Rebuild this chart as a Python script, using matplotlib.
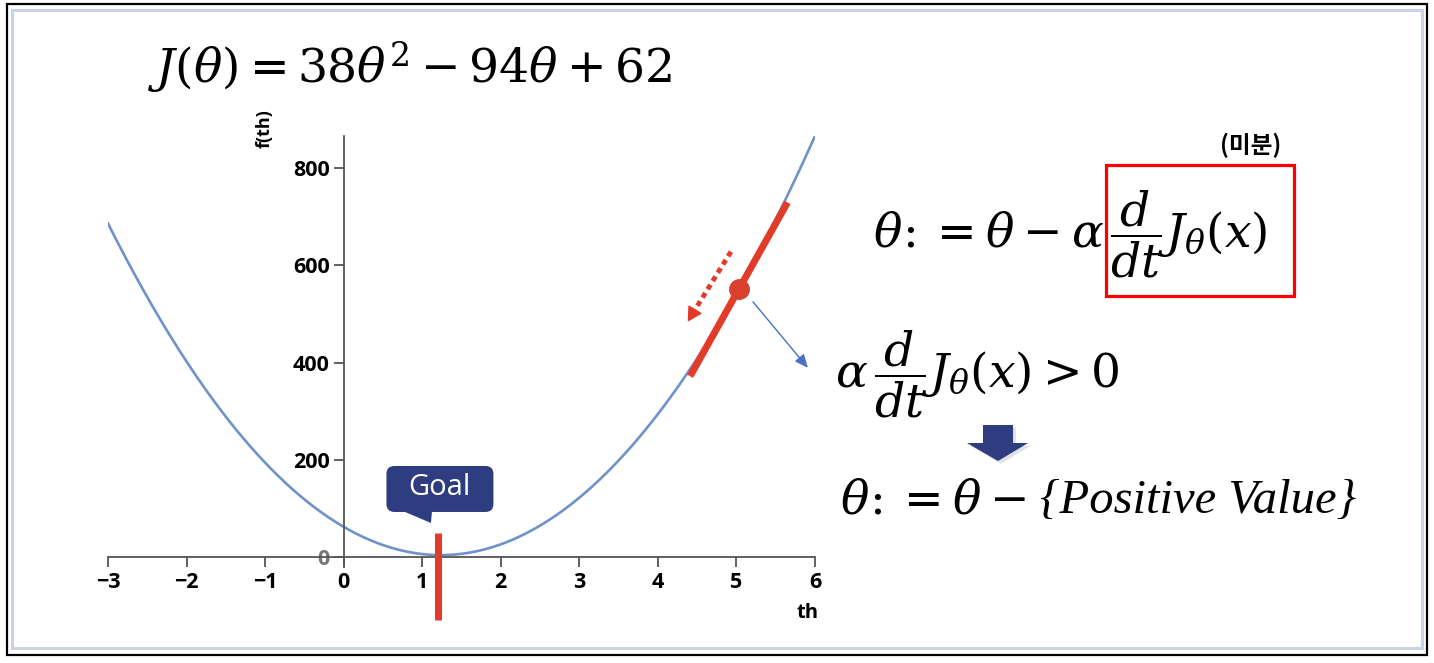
import numpy as np
import matplotlib
matplotlib.use("Agg")
import matplotlib.pyplot as plt
import matplotlib.patches as mpatches
import matplotlib.transforms as mtransforms

# ── data ─────────────────────────────────────────────────────────────────────
coef = [38, -94, 62]              # J(theta) = 38 th^2 - 94 th + 62
th_min, th_max = -3, 6
xticks = [-3, -2, -1, 0, 1, 2, 3, 4, 5, 6]
yticks = [0, 200, 400, 600, 800]
goal_theta = 1.2                  # red marker at the minimum
tan_theta = 5.03                  # point where the tangent is drawn
tan_half = 0.62                   # half length of tangent (in theta)

CURVE = "#6F93C9"
RED = "#E23B2A"
NAVY = "#2E3D80"

plt.rcParams["font.family"] = ["Open Sans", "DejaVu Sans"]
plt.rcParams["mathtext.fontset"] = "dejavuserif"

W, H = 1434, 663
fig = plt.figure(figsize=(W / 100, H / 100), dpi=100)


def fx(px):
    return px / W


def fy(py):
    return 1 - py / H


# ── frame ────────────────────────────────────────────────────────────────────
fig.add_artist(mpatches.Rectangle((fx(7), fy(655)), fx(1427) - fx(7), fy(4) - fy(655),
                                  transform=fig.transFigure, fill=False, ec="black", lw=1.6))
fig.add_artist(mpatches.Rectangle((fx(12), fy(648)), fx(1422) - fx(12), fy(10) - fy(648),
                                  transform=fig.transFigure, fill=False, ec="#C9D3E3", lw=2.2))

# ── plot ─────────────────────────────────────────────────────────────────────
ax = fig.add_axes([fx(108), fy(566.7), fx(815) - fx(108), fy(136) - fy(566.7)])
ax.patch.set_alpha(0)

th = np.linspace(th_min, th_max, 400)
J = np.polyval(coef, th)
ax.plot(th, J, color=CURVE, lw=1.9, zorder=2)

ax.set_xlim(th_min, th_max)
ax.set_ylim(-20, 866)
ax.spines[["top", "right"]].set_visible(False)
ax.spines["left"].set_position(("data", 0))
ax.spines["bottom"].set_position(("data", 0))
for s in ("left", "bottom"):
    ax.spines[s].set_color("#555555")
    ax.spines[s].set_linewidth(1.3)
ax.set_xticks(xticks)
ax.set_yticks(yticks)
ax.set_xticklabels([str(v).replace("-", "\u2212") for v in xticks], fontweight="bold")
ax.set_yticklabels([str(v) for v in yticks], fontweight="bold")
ax.tick_params(colors="#555555", labelcolor="black", labelsize=15.5, length=7, width=1.3)
ax.tick_params(axis="x", pad=4)
ax.tick_params(axis="y", pad=3)
ax.get_yticklabels()[0].set_color("#777777")

ax.text(-1.0, 842, "f(th)", rotation=90, ha="center", va="bottom", fontsize=13,
        fontweight="bold", clip_on=False)
ax.text(5.9, -115, "th", ha="center", va="center", fontsize=14.5, fontweight="bold")

# goal marker
ax.plot([goal_theta, goal_theta], [49, -130], color=RED, lw=5, solid_capstyle="butt",
        clip_on=False, zorder=4)

# goal callout (sizes in inches relative to the goal point)
callout_tr = fig.dpi_scale_trans + mtransforms.ScaledTranslation(goal_theta, 0, ax.transData)
ax.add_patch(mpatches.FancyBboxPatch((-0.515, 0.45), 1.07, 0.46,
                                     boxstyle="round,pad=0,rounding_size=0.08",
                                     transform=callout_tr, fc=NAVY, ec="none", zorder=5))
ax.add_patch(mpatches.Polygon([(-0.34, 0.455), (-0.06, 0.455), (-0.07, 0.34)],
                              transform=callout_tr, fc=NAVY, ec="none", zorder=5))
ax.text(0.01, 0.69, "Goal", transform=callout_tr, ha="center", va="center",
        color="white", fontsize=21, zorder=6)

# tangent at current point
J0 = np.polyval(coef, tan_theta)
slope = np.polyval(np.polyder(coef), tan_theta)
tx = np.array([tan_theta - tan_half, tan_theta + tan_half])
ax.plot(tx, J0 + slope * (tx - tan_theta), color=RED, lw=5, solid_capstyle="butt", zorder=4)
ax.plot([tan_theta], [J0], "o", color="#D9412F", ms=14, zorder=5)

# dotted step direction arrow
ax.plot([4.93, 4.47], [628, 508], color=RED, lw=3.5, linestyle=(0, (1.1, 0.9)),
        solid_capstyle="butt", zorder=4)
ax.annotate("", xy=(4.38, 484), xytext=(4.47, 508),
            arrowprops=dict(arrowstyle="-|>,head_length=0.9,head_width=0.5", color=RED,
                            lw=1, shrinkA=0, shrinkB=0), zorder=4)
# thin blue pointer
ax.annotate("", xy=(5.91, 389), xytext=(5.21, 525), annotation_clip=False,
            arrowprops=dict(arrowstyle="-|>,head_length=0.8,head_width=0.35", color="#4A6FC4",
                            lw=1, shrinkA=0, shrinkB=0), zorder=4)

# ── equations ────────────────────────────────────────────────────────────────
EQ = 34
fig.text(fx(148), fy(83), r"$J(\theta) = 38\theta^2 - 94\theta + 62$", fontsize=EQ,
         ha="left", va="baseline")
fig.text(fx(873), fy(247), r"$\theta\!:= \theta - \alpha\,\dfrac{d}{dt}J_\theta(x)$", fontsize=EQ,
         ha="left", va="baseline")
fig.text(fx(835), fy(387), r"$\alpha\,\dfrac{d}{dt}J_\theta(x) > 0$", fontsize=EQ,
         ha="left", va="baseline")
fig.text(fx(840), fy(513), r"$\theta\!:= \theta -$", fontsize=EQ, ha="left", va="baseline")
fig.text(fx(1040), fy(513), "{Positive Value}", fontsize=35, ha="left", va="baseline",
         family=["Liberation Serif", "DejaVu Serif"], style="italic")

# highlight box + label
fig.add_artist(mpatches.Rectangle((fx(1106), fy(296)), fx(1294) - fx(1106), fy(165) - fy(296),
                                  transform=fig.transFigure, fill=False, ec="#FF0000", lw=2.3))
fig.text(fx(1251), fy(145), "(미분)", ha="center", va="center", fontsize=17, fontweight="bold",
         family=["Noto Sans CJK KR", "DejaVu Sans"])

# big down arrow
arrow_px = [(983, 425), (1013, 425), (1013, 443), (1028, 443), (998, 461),
            (967, 443), (983, 443)]
fig.add_artist(mpatches.Polygon([(fx(x) + 0.002, fy(y) - 0.004) for x, y in arrow_px],
                                transform=fig.transFigure, fc="#C8CCD8", ec="none", alpha=0.6))
fig.add_artist(mpatches.Polygon([(fx(x), fy(y)) for x, y in arrow_px],
                                transform=fig.transFigure, fc=NAVY, ec="none"))

fig.savefig("out.png", dpi=100)
